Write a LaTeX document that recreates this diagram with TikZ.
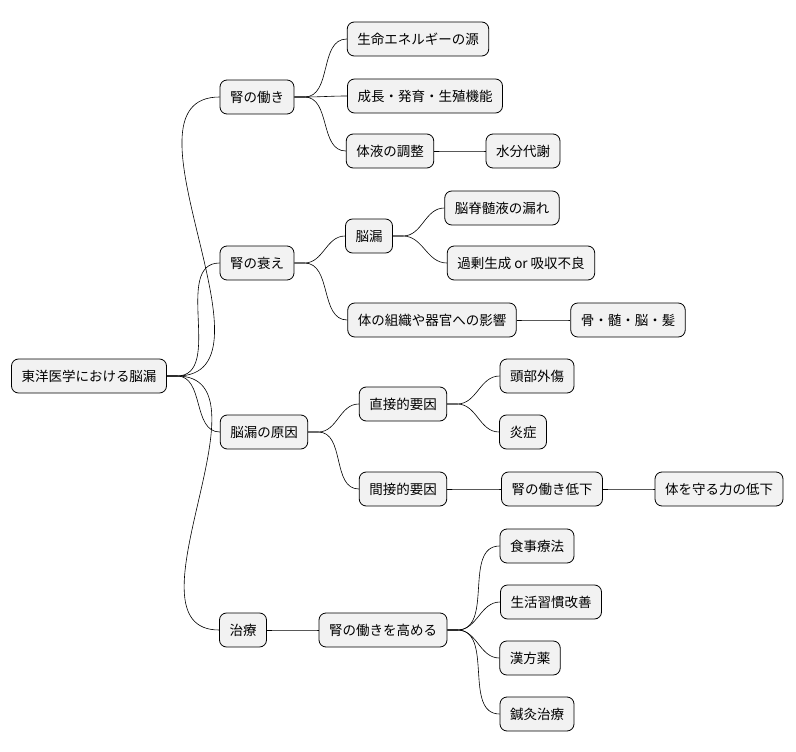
\documentclass[tikz,border=0pt]{standalone}
\usepackage{fontspec}
\setmainfont{Noto Sans CJK JP}
\tikzset{
  topic/.style={draw, rounded corners=7pt, fill=gray!10, line width=0.8pt,
    minimum height=34pt, inner xsep=10pt, font=\fontsize{13.5}{16}\selectfont},
  branch/.style={line width=0.6pt}
}
\begin{document}
\begin{tikzpicture}[x=1pt, y=-1pt]
\useasboundingbox (0,0) rectangle (796,752);
\node[topic] (root) at (89,376) {東洋医学における脳漏};
% first level
\node[topic] (work) at (257,97) {腎の働き};
\node[topic] (weak) at (257,263) {腎の衰え};
\node[topic] (cause) at (264,432) {脳漏の原因};
\node[topic] (cure) at (243,630) {治療};
% 腎の働き
\node[topic] (energy) at (418,39) {生命エネルギーの源};
\node[topic] (growth) at (425,96) {成長・発育・生殖機能};
\node[topic] (fluid) at (390,151) {体液の調整};
\node[topic] (water) at (523,151) {水分代謝};
% 腎の衰え
\node[topic] (leak) at (369,236) {脳漏};
\node[topic] (csf) at (502,208) {脳脊髄液の漏れ};
\node[topic] (over) at (521,263) {過剰生成 or 吸収不良};
\node[topic] (organ) at (432,320) {体の組織や器官への影響};
\node[topic] (bone) at (628,320) {骨・髄・脳・髪};
% 脳漏の原因
\node[topic] (direct) at (403,404) {直接的要因};
\node[topic] (trauma) at (537,376) {頭部外傷};
\node[topic] (inflam) at (523,432) {炎症};
\node[topic] (indirect) at (403,489) {間接的要因};
\node[topic] (decline) at (552,489) {腎の働き低下};
\node[topic] (defense) at (719,489) {体を守る力の低下};
% 治療
\node[topic] (boost) at (383,630) {腎の働きを高める};
\node[topic] (diet) at (537,546) {食事療法};
\node[topic] (life) at (551,602) {生活習慣改善};
\node[topic] (herb) at (530,658) {漢方薬};
\node[topic] (acu) at (537,714) {鍼灸治療};
% connectors
\foreach \a/\b in {root/work, root/weak, root/cause, root/cure,
  work/energy, work/growth, work/fluid, fluid/water,
  weak/leak, weak/organ, leak/csf, leak/over, organ/bone,
  cause/direct, cause/indirect, direct/trauma, direct/inflam,
  indirect/decline, decline/defense,
  cure/boost, boost/diet, boost/life, boost/herb, boost/acu}
  \draw[branch] (\a.east) -- ++(10,0) to[out=0, in=180] (\b.west);
\end{tikzpicture}
\end{document}
